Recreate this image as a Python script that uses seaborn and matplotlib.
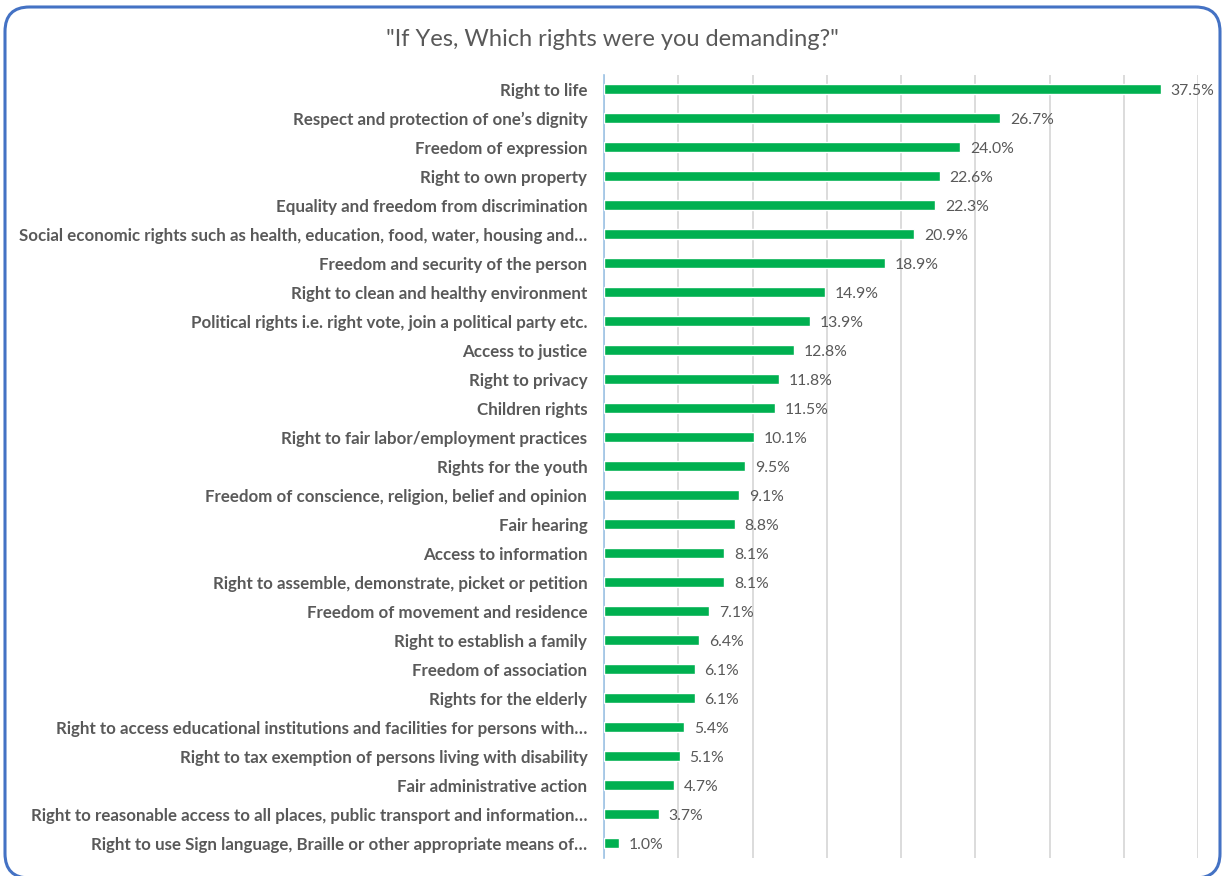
import matplotlib
matplotlib.use("Agg")
import matplotlib.pyplot as plt
from matplotlib.patches import FancyBboxPatch
import seaborn as sns
import pandas as pd

rights = [
    "Right to life",
    "Respect and protection of one\u2019s dignity",
    "Freedom of expression",
    "Right to own property",
    "Equality and freedom from discrimination",
    "Social economic rights such as health, education, food, water, housing and\u2026",
    "Freedom and security of the person",
    "Right to clean and healthy environment",
    "Political rights i.e. right vote, join a political party etc.",
    "Access to justice",
    "Right to privacy",
    "Children rights",
    "Right to fair labor/employment practices",
    "Rights for the youth",
    "Freedom of conscience, religion, belief and opinion",
    "Fair hearing",
    "Access to information",
    "Right to assemble, demonstrate, picket or petition",
    "Freedom of movement and residence",
    "Right to establish a family",
    "Freedom of association",
    "Rights for the elderly",
    "Right to access educational institutions and facilities for persons with\u2026",
    "Right to tax exemption of persons living with disability",
    "Fair administrative action",
    "Right to reasonable access to all places, public transport and information\u2026",
    "Right to use Sign language, Braille or other appropriate means of\u2026",
]
shares = [37.5, 26.7, 24.0, 22.6, 22.3, 20.9, 18.9, 14.9, 13.9, 12.8, 11.8, 11.5,
          10.1, 9.5, 9.1, 8.8, 8.1, 8.1, 7.1, 6.4, 6.1, 6.1, 5.4, 5.1, 4.7, 3.7, 1.0]
title = "\"If Yes, Which rights were you demanding?\""

df = pd.DataFrame({"right": rights, "share": shares})

sns.set_theme(style="white")
plt.rcParams["font.family"] = ["Lato", "DejaVu Sans"]

fig = plt.figure(figsize=(12.25, 8.76), dpi=100)
ax = fig.add_axes([604 / 1225, 1 - 857.5 / 876, (1198 - 604) / 1225, (857.5 - 74.5) / 876])

sns.barplot(data=df, y="right", x="share", orient="h", color="#00B050",
            width=0.35, saturation=1, ax=ax, zorder=3)

ax.set_xlim(0, 40)
ax.set_xticks(range(0, 41, 5))
ax.xaxis.grid(True, color="#D9D9D9", linewidth=1.3, zorder=0)
ax.yaxis.grid(False)
ax.set_axisbelow(True)
ax.tick_params(axis="x", length=0, labelbottom=False)
ax.tick_params(axis="y", length=0, pad=12, labelsize=12.2, labelcolor="#595959")
for lbl in ax.get_yticklabels():
    lbl.set_fontweight("bold")
ax.set_xlabel("")
ax.set_ylabel("")
for side in ("top", "right", "bottom"):
    ax.spines[side].set_visible(False)
ax.spines["left"].set_color("#9DC3E6")
ax.spines["left"].set_linewidth(1.2)

value_labels = ax.bar_label(ax.containers[0], labels=[f"{v:.1f}%" for v in shares],
                            padding=7, fontsize=11.3, color="#595959")
for t in value_labels:
    t.set_va("center")
    t.xyann = (7, -1.5)

fig.text(0.5, 1 - 40 / 876, title, ha="center", va="center",
         fontsize=17, color="#595959")

border = FancyBboxPatch((5 / 1225, 1 - 878 / 876), (1220 - 5) / 1225, (878 - 7) / 876,
                        boxstyle="round,pad=0,rounding_size=0.02",
                        transform=fig.transFigure, fill=False,
                        edgecolor="#4472C4", linewidth=2.2, mutation_aspect=1225 / 876)
fig.patches.append(border)

fig.savefig("out.png", dpi=100)
